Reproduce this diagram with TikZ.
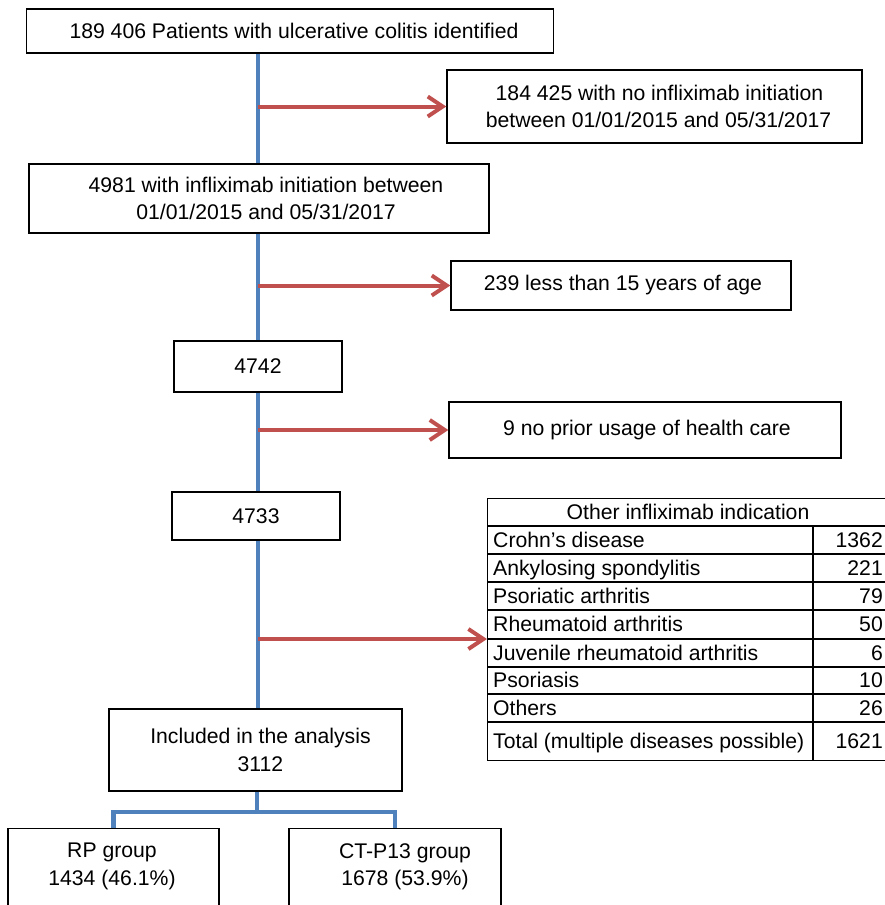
\documentclass[tikz,border=0pt]{standalone}
\usepackage{fontspec}
\setmainfont{Liberation Sans}
\usetikzlibrary{arrows.meta}
\definecolor{flowblue}{HTML}{4F81BD}
\definecolor{flowred}{HTML}{C0504D}
\tikzset{
  fbox/.style={draw=black, line width=1.3pt, inner sep=0pt, align=center, fill=white},
  bline/.style={draw=flowblue, line width=4.5pt},
  rarrow/.style={draw=flowred, line width=4pt, -{Straight Barb[length=15pt,width=20pt,line width=4pt]}},
  tline/.style={draw=black, line width=1.4pt},
  tcell/.style={inner sep=0pt, text height=15pt, text depth=1pt},
  plain/.style={inner sep=0pt, align=center}
}
\begin{document}
\begin{tikzpicture}[x=1pt,y=-1pt, every node/.style={font=\fontsize{21.2}{27.5}\selectfont}]
\useasboundingbox (0,0) rectangle (885,905);
\coordinate (spine) at (258,0);
% main boxes
\node[fbox, minimum width=527pt, minimum height=44pt] (top) at (290,31) {\hspace*{8pt}189 406 Patients with ulcerative colitis identified};
\node[fbox, minimum width=415pt, minimum height=73pt] (excl1) at (654.5,106.5) {\hspace*{10pt}184 425 with no infliximab initiation\\\hspace*{8pt}between 01/01/2015 and 05/31/2017};
\node[fbox, minimum width=460pt, minimum height=69pt] (box2) at (259,198.5) {\hspace*{14pt}4981 with infliximab initiation between\\\hspace*{14pt}01/01/2015 and 05/31/2017};
\node[fbox, minimum width=340pt, minimum height=49pt] (excl2) at (621,285.5) {\hspace*{4pt}239 less than 15 years of age};
\node[fbox, minimum width=168pt, minimum height=51pt] (b4742) at (258,366.5) {4742};
\node[fbox, minimum width=392pt, minimum height=56pt] (excl3) at (645,430) {\hspace*{4pt}9 no prior usage of health care};
\node[fbox, minimum width=168pt, minimum height=48pt] (b4733) at (256,516) {4733};
\node[fbox, minimum width=293pt, minimum height=82pt] (incl) at (255.5,750) {\hspace*{10pt}Included in the analysis\\\hspace*{10pt}3112};
\node[fbox, minimum width=211pt, minimum height=100pt, anchor=north] (rp) at (113.5,828) {};
\node[fbox, minimum width=212pt, minimum height=100pt, anchor=north] (ct) at (395,828) {};
\node[plain, anchor=north] (rptext) at (112,843) {RP group\\1434 (46.1\%)};
\node[plain, anchor=north] (cttext) at (405,843) {CT-P13 group\\1678 (53.9\%)};
% table
\node[tline, inner sep=0pt, minimum width=399pt, minimum height=262pt, anchor=north west] (tbl) at (487,498) {};
\coordinate (tblin) at (487,639);
\foreach \yy in {526,554,582,610,639,667,694,722}
  \draw[tline] (487,\yy) -- (886,\yy);
\draw[tline] (813,526) -- (813,760);
\node[tcell] (th) at (688,512) {Other infliximab indication};
\foreach \lab/\val/\yy [count=\i] in {Crohn’s disease/1362/540, Ankylosing spondylitis/221/568, Psoriatic arthritis/79/596, Rheumatoid arthritis/50/624.5, Juvenile rheumatoid arthritis/6/653, Psoriasis/10/680.5, Others/26/708, Total (multiple diseases possible)/1621/741}
{
  \node[tcell, anchor=west] (lab\i) at (493,\yy) {\lab};
  \node[tcell, anchor=east] (val\i) at (883,\yy) {\val};
}
% blue spine
\draw[bline] (top.south -| spine) -- (box2.north -| spine);
\draw[bline] (box2.south -| spine) -- (b4742.north -| spine);
\draw[bline] (b4742.south -| spine) -- (b4733.north -| spine);
\draw[bline] (b4733.south -| spine) -- (incl.north -| spine);
\coordinate (jn) at (257,812);
\draw[bline] (incl.south -| jn) -- (jn);
\draw[bline] (rp.north) |- (jn) -| (ct.north);
% red arrows
\draw[rarrow] (spine |- excl1.west) -- (excl1.west);
\draw[rarrow] (spine |- excl2.west) -- (excl2.west);
\draw[rarrow] (spine |- excl3.west) -- (excl3.west);
\draw[rarrow] (spine |- tblin) -- (tblin);
\end{tikzpicture}
\end{document}
